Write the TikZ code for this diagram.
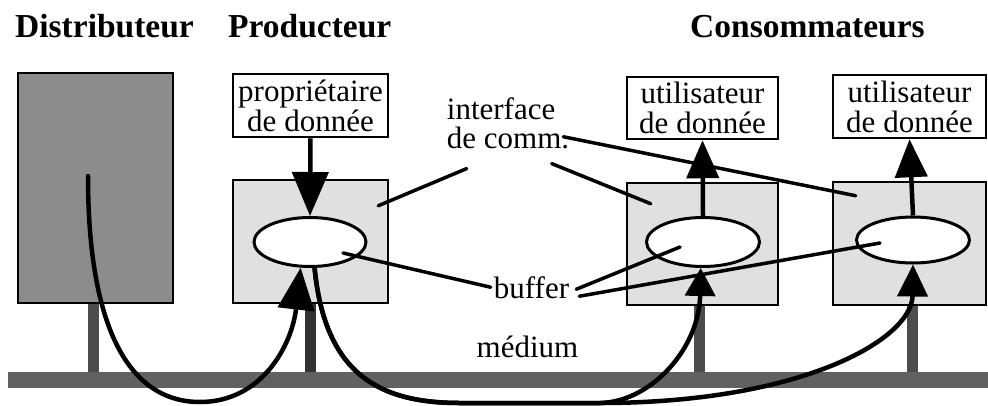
\documentclass[tikz,border=0pt]{standalone}
\usepackage{fontspec}
\setmainfont{Liberation Serif}
\usetikzlibrary{arrows.meta,calc,shapes.geometric}
\definecolor{distgray}{gray}{0.55}
\definecolor{bargray}{gray}{0.38}
\definecolor{ifgray}{gray}{0.88}
\definecolor{stemgray}{gray}{0.3}
\tikzset{
  titre/.style={inner sep=0pt, font=\fontsize{33.5}{40}\selectfont\bfseries},
  etiq/.style={inner sep=0pt, align=left, font=\fontsize{31}{29}\selectfont},
  boite/.style={draw, line width=2.5pt, inner sep=0pt, align=center, font=\fontsize{31}{30}\selectfont},
  ifbox/.style={boite, fill=ifgray},
  buf/.style={draw, ellipse, fill=white, line width=3pt, inner sep=0pt},
  stem/.style={line width=11pt, stemgray},
  courbe/.style={line width=4.5pt, line cap=round},
  fleche/.style={line width=4.5pt},
  pointeur/.style={line width=3.5pt, line cap=round}
}
\begin{document}
\begin{tikzpicture}[x=1pt,y=-1pt]
\useasboundingbox (0,0) rectangle (988,405);
% titres
\node [titre, anchor=base west] (tdist) at (15,37) {Distributeur};
\node [titre, anchor=base west] (tprod) at (228,37) {Producteur};
\node [titre, anchor=base west] (tcons) at (690,37) {Consommateurs};
% boites
\node [boite, fill=distgray, minimum width=155pt, minimum height=230pt] (dist) at (95.5,188) {};
\node [boite, minimum width=155pt, minimum height=63pt] (prop) at (310.5,105.5) {propriétaire\\de donnée};
\node [ifbox, minimum width=155pt, minimum height=123pt] (ifp) at (310.5,241.5) {};
\node [boite, minimum width=151pt, minimum height=62pt] (use1) at (702.5,108) {utilisateur\\de donnée};
\node [ifbox, minimum width=151pt, minimum height=122pt] (ifc1) at (702.5,244) {};
\node [boite, minimum width=153pt, minimum height=63pt] (use2) at (909.5,106.5) {utilisateur\\de donnée};
\node [ifbox, minimum width=153pt, minimum height=123pt] (ifc2) at (909.5,243.5) {};
% medium
\node [fill=bargray, inner sep=0pt, minimum width=990pt, minimum height=16pt] (bar) at (503,380) {};
\coordinate (sd) at (93,0);
\coordinate (sp) at (310,0);
\coordinate (s1) at (699,0);
\coordinate (s2) at (912,0);
\draw [stem] (dist.south -| sd) -- (bar.north -| sd);
\draw [stem, black!80] (ifp.south -| sp) -- (bar.north -| sp);
\draw [stem] (ifc1.south -| s1) -- (bar.north -| s1);
\draw [stem] (ifc2.south -| s2) -- (bar.north -| s2);
% buffers
\node [buf, minimum width=112pt, minimum height=49pt] (bufp) at (310,242) {};
\node [buf, minimum width=113pt, minimum height=49pt] (bufc1) at (703,242) {};
\node [buf, minimum width=113pt, minimum height=46pt] (bufc2) at (913,240) {};
% fleches locales
\draw [fleche, -{Triangle[length=44pt,width=36pt]}] (prop.south) -- (bufp.north);
\draw [fleche, -{Triangle[length=38pt,width=32pt]}] (bufc1.north) -- (use1.south);
\draw [fleche, -{Triangle[length=38pt,width=32pt]}] (bufc2.north) -- (use2.south);
% transferts
\coordinate (dsrc) at (88,176);
\draw [courbe, -{Triangle[length=42pt,width=36pt]}] (dsrc) .. controls (88,330) and (130,402) .. (200,402)
  .. controls (262,402) and (292,345) .. (bufp.250);
\draw [courbe, -{Triangle[length=28pt,width=30pt]}] (bufp.280) .. controls (325,375) and (380,403) .. (460,403)
  -- (600,403) .. controls (650,402) and (699,350) .. (bufc1.265);
\draw [courbe, -{Triangle[length=32pt,width=30pt]}] (bufp.280) .. controls (325,375) and (380,403) .. (460,403)
  -- (600,403) .. controls (800,403) and (912,340) .. (bufc2.south);
% etiquettes
\node [etiq] (iface) at (508,123.75) {interface\\de comm.};
\node [etiq, anchor=base] (lbuf) at (531.5,298) {buffer};
\node [etiq, anchor=base] (lmed) at (527.5,357) {médium};
\draw [pointeur] ($(iface.south west)+(20,19)$) -- ($(ifp.north east)+(-11,27)$);
\draw [pointeur] ($(iface.south west)+(105,14)$) -- ($(ifc1.north west)+(25,22)$);
\draw [pointeur] ($(iface.east)+(-6,13)$) -- ($(ifc2.north west)+(24,15)$);
\draw [pointeur] ($(lbuf.west)+(-3,0)$) -- ($(bufp.center)+(33,11)$);
\draw [pointeur] ($(lbuf.east)+(7,2)$) -- ($(bufc1.center)+(-23,5)$);
\draw [pointeur] ($(lbuf.east)+(10,9)$) -- ($(bufc2.center)+(-33,3)$);
\end{tikzpicture}
\end{document}
